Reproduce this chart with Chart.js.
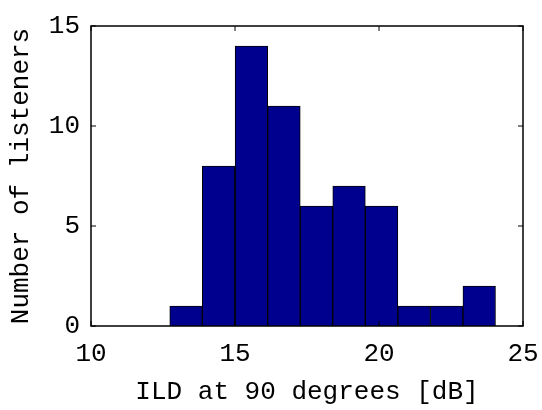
<!DOCTYPE html>
<html>
<head>
<meta charset="utf-8">
<script src="https://cdn.jsdelivr.net/npm/chart.js@4.4.1/dist/chart.umd.min.js"></script>
<style>
  html, body { margin: 0; padding: 0; background: #fff; }
  #wrap { width: 542px; height: 410px; }
</style>
</head>
<body>
<div id="wrap"><canvas id="chart-area" width="542" height="410"></canvas></div>
<script>
// histogram bin centres (dB) and counts
var binCenters = [13.30, 14.43, 15.57, 16.70, 17.83, 18.96, 20.09, 21.22, 22.35, 23.48];
var counts = [1, 8, 14, 11, 6, 7, 6, 1, 1, 2];
var xTicks = [10, 15, 20, 25];
var yTicks = [0, 5, 10, 15];

var points = binCenters.map(function(c, i) { return { x: c, y: counts[i] }; });

var monoFont = { family: "'Liberation Mono', 'Courier New', monospace", size: 26 };

// matlab style box with inward tick marks
var boxPlugin = {
    id: 'matlabBox',
    afterDraw: function(chart) {
        var ctx = chart.ctx, a = chart.chartArea;
        var xs = chart.scales.x, ys = chart.scales.y;
        ctx.save();
        ctx.strokeStyle = '#000';
        ctx.lineWidth = 1.5;
        ctx.strokeRect(a.left, a.top, a.right - a.left, a.bottom - a.top);
        ctx.lineWidth = 1;
        var len = 5;
        xTicks.forEach(function(v) {
            var px = xs.getPixelForValue(v);
            ctx.beginPath();
            ctx.moveTo(px, a.bottom); ctx.lineTo(px, a.bottom - len);
            ctx.moveTo(px, a.top); ctx.lineTo(px, a.top + len);
            ctx.stroke();
        });
        yTicks.forEach(function(v) {
            var py = ys.getPixelForValue(v);
            ctx.beginPath();
            ctx.moveTo(a.left, py); ctx.lineTo(a.left + len, py);
            ctx.moveTo(a.right, py); ctx.lineTo(a.right - len, py);
            ctx.stroke();
        });
        ctx.restore();
    }
};

var config = {
    type: 'bar',
    data: {
        datasets: [{
            data: points,
            backgroundColor: '#00008F',
            borderColor: '#000',
            borderWidth: 1,
            barPercentage: 1,
            categoryPercentage: 1,
            grouped: false
        }]
    },
    options: {
        responsive: false,
        animation: false,
        layout: { padding: { left: 0, right: 19, top: 26, bottom: 0 } },
        plugins: { legend: { display: false }, tooltip: { enabled: false } },
        scales: {
            x: {
                type: 'linear',
                offset: false,
                min: 10, max: 25,
                afterBuildTicks: function(s) { s.ticks = xTicks.map(function(v) { return { value: v }; }); },
                afterFit: function(s) { s.height = 84; s.paddingLeft = 0; s.paddingRight = 0; },
                grid: { display: false, drawTicks: false },
                border: { display: false },
                ticks: { color: '#000', font: monoFont, padding: 13, maxRotation: 0 },
                title: { display: true, text: 'ILD at 90 degrees [dB]', color: '#000', font: monoFont, padding: { top: 0, bottom: 2 } }
            },
            y: {
                min: 0, max: 15,
                afterBuildTicks: function(s) { s.ticks = yTicks.map(function(v) { return { value: v }; }); },
                afterFit: function(s) { s.width = 91; s.paddingTop = 0; s.paddingBottom = 0; },
                grid: { display: false, drawTicks: false },
                border: { display: false },
                ticks: { color: '#000', font: monoFont, padding: 11 },
                title: { display: true, text: 'Number of listeners', color: '#000', font: monoFont, padding: { top: 6, bottom: 0 } }
            }
        }
    },
    plugins: [boxPlugin]
};

window.onload = function() {
    var ctx = document.getElementById('chart-area').getContext('2d');
    new Chart(ctx, config);
};
</script>
</body>
</html>
